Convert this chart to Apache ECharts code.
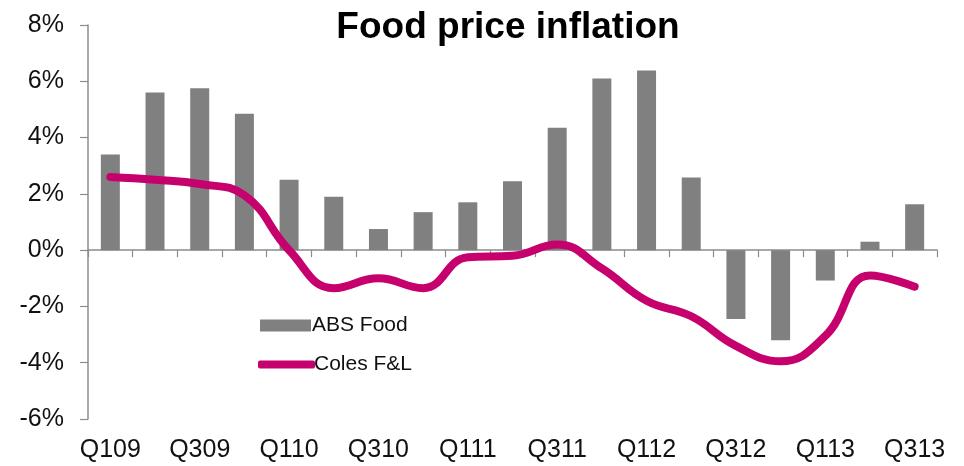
<!DOCTYPE html>
<html>
<head>
<meta charset="utf-8">
<script src="https://cdn.jsdelivr.net/npm/echarts@6/dist/echarts.min.js"></script>
<style>
  html, body { margin: 0; padding: 0; background: #fff; }
  #chart { width: 964px; height: 466px; }
</style>
</head>
<body>
<div id="chart"></div>
<script>
// Quarterly food price inflation (year-on-year, %)
var quarters = ['Q109','Q209','Q309','Q409','Q110','Q210','Q310','Q410','Q111','Q211',
                'Q311','Q411','Q112','Q212','Q312','Q412','Q113','Q213','Q313'];
var absFood = [3.4, 5.6, 5.75, 4.85, 2.5, 1.9, 0.75, 1.35, 1.7, 2.45,
               4.35, 6.1, 6.38, 2.58, -2.45, -3.2, -1.08, 0.3, 1.63];
var colesFL = [2.6, 2.5, 2.35, 1.95, 0.0, -1.35, -1.0, -1.35, -0.25, -0.2,
               0.2, -0.65, -1.8, -2.35, -3.4, -3.95, -3.05, -0.9, -1.3];
var yTicks = { min: -6, max: 8, step: 2 };

var FONT = '"Liberation Sans", Arial, sans-serif';
var AXIS = '#8c8c8c';
var BAR = '#808080';
var LINE = '#c6006d';

var chart = echarts.init(document.getElementById('chart'), null, { renderer: 'canvas' });

chart.setOption({
  backgroundColor: '#ffffff',
  animation: false,
  title: {
    text: 'Food price inflation',
    left: 503,
    top: 4,
    textAlign: 'center',
    textStyle: { fontFamily: FONT, fontSize: 37, fontWeight: 'bold', color: '#000' }
  },
  legend: [
    {
      data: ['ABS Food'],
      left: 255, top: 310,
      icon: 'rect',
      itemWidth: 51, itemHeight: 12, itemGap: 6,
      textStyle: { fontFamily: FONT, fontSize: 21, color: '#111', padding: [0, 0, 0, -4] }
    },
    {
      data: ['Coles F&L'],
      left: 253, top: 349,
      icon: 'roundRect',
      itemWidth: 57, itemHeight: 8, itemGap: 6,
      textStyle: { fontFamily: FONT, fontSize: 21, color: '#111', padding: [0, 0, 0, -6] }
    }
  ],
  grid: { left: 88, right: 27, top: 25, bottom: 47 },
  xAxis: [
    {
      type: 'category',
      data: quarters,
      boundaryGap: true,
      axisLine: { onZero: true, lineStyle: { color: AXIS, width: 1.5 } },
      axisTick: { show: true, inside: false, length: 7, alignWithLabel: false, interval: 0,
                  lineStyle: { color: AXIS, width: 1.2 } },
      axisLabel: { show: false },
      splitLine: { show: false }
    },
    {
      type: 'category',
      data: quarters,
      position: 'bottom',
      boundaryGap: true,
      axisLine: { show: false, onZero: false },
      axisTick: { show: false },
      axisLabel: { interval: 1, margin: 19, fontFamily: FONT, fontSize: 25, color: '#111' },
      splitLine: { show: false }
    }
  ],
  yAxis: {
    type: 'value',
    min: yTicks.min,
    max: yTicks.max,
    interval: yTicks.step,
    axisLine: { show: true, lineStyle: { color: AXIS, width: 1.5 } },
    axisTick: { show: true, inside: false, length: 8, lineStyle: { color: AXIS, width: 1.2 } },
    axisLabel: { margin: 24, fontFamily: FONT, fontSize: 25, color: '#111',
                 formatter: function (v) { return v + '%'; } },
    splitLine: { show: false }
  },
  series: [
    {
      name: 'ABS Food',
      type: 'bar',
      xAxisIndex: 0,
      data: absFood,
      barWidth: 19,
      itemStyle: { color: BAR }
    },
    {
      name: 'Coles F&L',
      type: 'line',
      xAxisIndex: 0,
      data: colesFL,
      smooth: 0.45,
      symbol: 'none',
      color: LINE,
      lineStyle: { color: LINE, width: 8, cap: 'round', join: 'round' },
      itemStyle: { color: LINE },
      z: 3
    }
  ]
});
</script>
</body>
</html>
